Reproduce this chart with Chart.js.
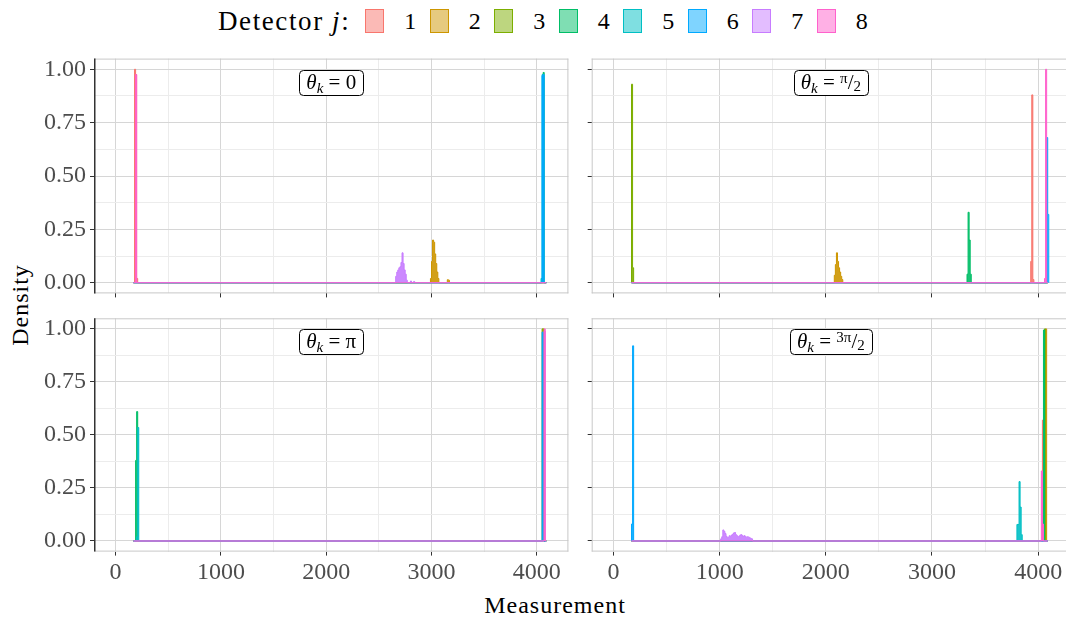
<!DOCTYPE html>
<html>
<head>
<meta charset="utf-8">
<script src="https://cdn.jsdelivr.net/npm/chart.js@4"></script>
<style>
html, body { margin: 0; padding: 0; background: #fff; overflow: hidden; width: 1066px; height: 619px; }
body { position: relative; font-family: "Liberation Serif", "Tinos", "Times New Roman", "DejaVu Serif", serif; color: #000; }
canvas { position: absolute; }
#legend { position: absolute; left: 218px; top: 0; height: 42px; display: flex; align-items: center; font-size: 24px; white-space: nowrap; }
#legend .title { font-size: 27px; letter-spacing: 1.6px; margin-right: 15px; }
#legend .item { display: flex; align-items: center; width: 64.5px; }
#legend .key { width: 19px; height: 24px; box-sizing: border-box; border: 1px solid; margin-right: 20px; }
.axtitle { position: absolute; font-size: 24px; letter-spacing: 1px; white-space: nowrap; }
#ylab { left: 20px; top: 305px; transform: translate(-50%, -50%) rotate(-90deg); }
#xlab { left: 555px; top: 605px; transform: translate(-50%, -50%); }
</style>
</head>
<body>
<div id="legend"><span class="title">Detector <i>j</i>:</span></div>
<div class="axtitle" id="ylab">Density</div>
<div class="axtitle" id="xlab">Measurement</div>
<script>
// ---- data ----
const DETECTORS = ['1', '2', '3', '4', '5', '6', '7', '8'];
const COLORS = ['#F8766D', '#CD9600', '#7CAE00', '#00BE67', '#00BFC4', '#00A9FF', '#C77CFF', '#FF61CC'];
const X_TICKS = [0, 1000, 2000, 3000, 4000];
const X_MINOR = [500, 1500, 2500, 3500];
const Y_TICKS = [0, 0.25, 0.5, 0.75, 1];
const Y_MINOR = [0.125, 0.375, 0.625, 0.875];
const BIN = 10;                 // bin width of the measurement axis
const X_START = 170, X_END = 4090;

// [bin start, density] for detectors 1..8
const theta0 = [
  [[180, 1.0], [190, 0.975], [200, 0.02]],
  [[2990, 0.02], [3000, 0.10], [3010, 0.20], [3020, 0.19], [3030, 0.135], [3040, 0.09], [3050, 0.05], [3060, 0.02], [3150, 0.014], [3160, 0.012]],
  [],
  [[4060, 0.985]],
  [[4040, 0.02], [4050, 0.975]],
  [[4050, 0.97], [4060, 0.975]],
  [[2660, 0.03], [2670, 0.05], [2680, 0.06], [2690, 0.07], [2700, 0.075], [2710, 0.095], [2720, 0.14], [2730, 0.09], [2740, 0.06], [2750, 0.04], [2760, 0.012], [2800, 0.008], [2830, 0.006]],
  [[190, 0.975]]
];
const thetaHalfPi = [
  [[3930, 0.10], [3940, 0.88], [3950, 0.015]],
  [[2080, 0.035], [2090, 0.085], [2100, 0.14], [2110, 0.10], [2120, 0.07], [2130, 0.05], [2140, 0.03], [2150, 0.015]],
  [[170, 0.93], [180, 0.07]],
  [[3330, 0.04], [3340, 0.33], [3350, 0.2], [3360, 0.04]],
  [],
  [[4080, 0.68], [4090, 0.32]],
  [],
  [[4060, 0.02], [4070, 1.0]]
];
const thetaPi = [
  [[4060, 0.99]],
  [[4060, 1.0]],
  [[4050, 1.0]],
  [[190, 0.38], [200, 0.61]],
  [[200, 0.02], [210, 0.535]],
  [[4050, 0.985]],
  [[4070, 0.99]],
  [[4070, 1.0]]
];
const thetaThreeHalfPi = [
  [[4040, 0.57]],
  [[4070, 1.0]],
  [[4060, 1.0]],
  [[4050, 0.995]],
  [[3800, 0.078], [3810, 0.078], [3820, 0.28], [3830, 0.16], [3840, 0.03]],
  [[170, 0.08], [180, 0.92]],
  [[1010, 0.01], [1020, 0.02], [1030, 0.052], [1040, 0.045], [1050, 0.035], [1060, 0.022], [1070, 0.015], [1080, 0.018], [1090, 0.025], [1100, 0.02],
   [1110, 0.028], [1120, 0.032], [1130, 0.038], [1140, 0.04], [1150, 0.03], [1160, 0.025], [1170, 0.02], [1180, 0.022], [1190, 0.028], [1200, 0.03],
   [1210, 0.025], [1220, 0.022], [1230, 0.025], [1240, 0.02], [1250, 0.018], [1260, 0.02], [1270, 0.018], [1280, 0.015], [1290, 0.012], [1300, 0.01]],
  [[4030, 0.33], [4040, 0.08]]
];
const LABEL_POS = [2048, 0.94];

// ---- layout ----
const FONT = '"Liberation Serif", "Tinos", "Times New Roman", "DejaVu Serif", serif';
const MAJOR = '#d6d6d6', MINOR = '#ececec', FRAME = '#c8c8c8', AXIS = '#333333';

const PANELS = [
  { data: theta0, canvas: { l: 0, t: 38, w: 590, h: 275 }, area: { l: 94, t: 58.6, r: 568.4, b: 293.4 }, left: true, bottom: false,
    label: [{ t: 'θ', i: 1 }, { t: 'k', i: 1, s: 15, dy: 4 }, { t: ' = 0' }] },
  { data: thetaHalfPi, canvas: { l: 575, t: 38, w: 510, h: 275 }, area: { l: 591.7, t: 58.6, r: 1070, b: 293.4 }, left: false, bottom: false,
    label: [{ t: 'θ', i: 1 }, { t: 'k', i: 1, s: 15, dy: 4 }, { t: ' = ' }, { t: 'π', s: 15, dy: -6 }, { t: '/' }, { t: '2', s: 15, dy: 2 }] },
  { data: thetaPi, canvas: { l: 0, t: 298, w: 590, h: 300 }, area: { l: 94, t: 318.3, r: 568.4, b: 551.6 }, left: true, bottom: true,
    label: [{ t: 'θ', i: 1 }, { t: 'k', i: 1, s: 15, dy: 4 }, { t: ' = π' }] },
  { data: thetaThreeHalfPi, canvas: { l: 575, t: 298, w: 510, h: 300 }, area: { l: 591.7, t: 318.3, r: 1070, b: 551.6 }, left: false, bottom: true,
    label: [{ t: 'θ', i: 1 }, { t: 'k', i: 1, s: 15, dy: 4 }, { t: ' = ' }, { t: '3π', s: 15, dy: -6 }, { t: '/' }, { t: '2', s: 15, dy: 2 }] }
];

function hexA(hex, a) {
  const n = parseInt(hex.slice(1), 16);
  return `rgba(${n >> 16}, ${(n >> 8) & 255}, ${n & 255}, ${a})`;
}

// legend
const legend = document.getElementById('legend');
DETECTORS.forEach((d, j) => {
  const item = document.createElement('span');
  item.className = 'item';
  const key = document.createElement('span');
  key.className = 'key';
  key.style.borderColor = COLORS[j];
  key.style.background = hexA(COLORS[j], 0.5);
  item.appendChild(key);
  item.appendChild(document.createTextNode(d));
  legend.appendChild(item);
});

// histogram bins -> stepped outline points
function series(bins) {
  const pts = [{ x: X_START, y: 0 }];
  let end = X_START;
  bins.forEach(([x, y]) => {
    if (x > end) pts.push({ x: end, y: 0 });
    pts.push({ x: x, y: y });
    end = x + BIN;
  });
  pts.push({ x: end, y: 0 });
  if (X_END > end) pts.push({ x: X_END, y: 0 });
  return pts;
}

function fontOf(s) {
  return (s.i ? 'italic ' : '') + (s.s || 21) + 'px ' + FONT;
}

const panelDecor = {
  id: 'panelDecor',
  afterDatasetsDraw(chart, args, opts) {
    const ctx = chart.ctx;
    const { left, top, right, bottom } = chart.chartArea;
    ctx.save();
    ctx.lineWidth = 1;
    ctx.strokeStyle = FRAME;
    ctx.beginPath();
    ctx.moveTo(left, top + 0.5); ctx.lineTo(right, top + 0.5);
    ctx.moveTo(right - 0.5, top); ctx.lineTo(right - 0.5, bottom);
    ctx.moveTo(left, bottom - 0.5); ctx.lineTo(right, bottom - 0.5);
    if (!opts.left) { ctx.moveTo(left + 0.5, top); ctx.lineTo(left + 0.5, bottom); }
    ctx.stroke();
    if (opts.left) {
      ctx.strokeStyle = AXIS;
      ctx.lineWidth = 1.5;
      ctx.beginPath();
      ctx.moveTo(left + 0.75, top); ctx.lineTo(left + 0.75, bottom);
      ctx.stroke();
    }

    // facet label box
    const cx = chart.scales.x.getPixelForValue(LABEL_POS[0]);
    const cy = chart.scales.y.getPixelForValue(LABEL_POS[1]);
    let w = 0;
    opts.label.forEach(s => { ctx.font = fontOf(s); s.w = ctx.measureText(s.t).width; w += s.w; });
    const padX = 7, h = 25, bx = cx - w / 2 - padX, by = cy - h / 2;
    ctx.beginPath();
    ctx.roundRect(Math.round(bx) + 0.5, Math.round(by) + 0.5, Math.round(w + 2 * padX), h, 4);
    ctx.fillStyle = '#fff';
    ctx.fill();
    ctx.strokeStyle = '#000';
    ctx.lineWidth = 1;
    ctx.stroke();
    ctx.fillStyle = '#000';
    ctx.textBaseline = 'alphabetic';
    let x = cx - w / 2;
    opts.label.forEach(s => {
      ctx.font = fontOf(s);
      ctx.fillText(s.t, x, cy + 6.5 + (s.dy || 0));
      x += s.w;
    });
    ctx.restore();
  }
};

PANELS.forEach((p) => {
  const c = p.canvas, a = p.area;
  const cv = document.createElement('canvas');
  cv.width = c.w; cv.height = c.h;
  cv.style.left = c.l + 'px'; cv.style.top = c.t + 'px';
  cv.style.width = c.w + 'px'; cv.style.height = c.h + 'px';
  document.body.appendChild(cv);

  const datasets = p.data.map((bins, j) => ({
    label: DETECTORS[j],
    data: series(bins),
    borderColor: COLORS[j],
    backgroundColor: hexA(COLORS[j], 0.9),
    borderWidth: 1,
    fill: 'origin',
    stepped: 'before',
    pointRadius: 0,
    order: 7 - j
  }));

  const tickFont = { family: FONT, size: 24 };
  new Chart(cv, {
    type: 'line',
    data: { datasets },
    plugins: [panelDecor],
    options: {
      responsive: false,
      animation: false,
      events: [],
      layout: { padding: { top: a.t - c.t, right: c.l + c.w - a.r, left: 0, bottom: 0 } },
      plugins: {
        legend: { display: false },
        tooltip: { enabled: false },
        panelDecor: { label: p.label, left: p.left }
      },
      scales: {
        x: {
          type: 'linear', min: -205, max: 4300,
          afterBuildTicks: s => { s.ticks = X_TICKS.concat(X_MINOR).sort((u, v) => u - v).map(v => ({ value: v })); },
          afterFit: s => { s.height = c.t + c.h - a.b; },
          border: { display: false },
          grid: {
            color: ctx => (ctx.tick && X_TICKS.includes(ctx.tick.value)) ? MAJOR : MINOR,
            tickColor: ctx => (ctx.tick && X_TICKS.includes(ctx.tick.value)) ? AXIS : 'rgba(0,0,0,0)',
            tickLength: 4, lineWidth: 1
          },
          ticks: {
            autoSkip: false, maxRotation: 0, padding: 3, color: '#4d4d4d', font: tickFont,
            callback: v => (p.bottom && X_TICKS.includes(v)) ? String(v) : ''
          }
        },
        y: {
          min: -0.05, max: 1.05,
          afterBuildTicks: s => { s.ticks = Y_TICKS.concat(Y_MINOR).sort((u, v) => u - v).map(v => ({ value: v })); },
          afterFit: s => { s.width = a.l - c.l; },
          border: { display: false },
          grid: {
            color: ctx => (ctx.tick && Y_TICKS.includes(ctx.tick.value)) ? MAJOR : MINOR,
            tickColor: ctx => (ctx.tick && Y_TICKS.includes(ctx.tick.value)) ? AXIS : 'rgba(0,0,0,0)',
            tickLength: 4, lineWidth: 1
          },
          ticks: {
            autoSkip: false, padding: 4, color: '#4d4d4d', font: tickFont,
            callback: v => (p.left && Y_TICKS.includes(v)) ? v.toFixed(2) : ''
          }
        }
      }
    }
  });
});
</script>
</body>
</html>
